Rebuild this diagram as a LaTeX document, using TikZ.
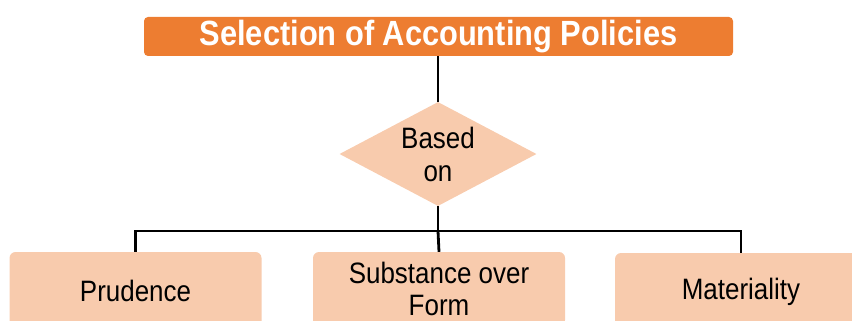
\documentclass[tikz,border=0pt]{standalone}
\usepackage{fontspec}
\setmainfont{Liberation Sans}[FakeStretch=0.88]
\usetikzlibrary{shapes.geometric}
\definecolor{titleorange}{HTML}{ED7D31}
\definecolor{peach}{HTML}{F8CBAD}
\begin{document}
\begin{tikzpicture}[x=1pt,y=-1pt,
  titlebox/.style={fill=titleorange, draw=none, rounded corners=4pt, minimum width=589pt, minimum height=39pt, inner sep=0pt, text=white, font=\fontsize{35}{38}\selectfont\bfseries},
  itembox/.style={fill=peach, draw=none, rounded corners=6pt, minimum width=252pt, minimum height=78pt, inner sep=0pt, align=center, font=\fontsize{29.5}{32}\selectfont},
  decision/.style={diamond, fill=peach, draw=none, inner sep=0pt, minimum width=197pt, minimum height=104pt},
  dialabel/.style={align=center, font=\fontsize{29.5}{33}\selectfont},
  conn/.style={line width=2.8pt, draw=black}]
\useasboundingbox (0,0) rectangle (852,321);
\clip (0,0) rectangle (852,321);
\node[titlebox] (title) at (438.5,36.5) {Selection of Accounting Policies};
\node[decision, label={[dialabel]center:Based\\on}] (dia) at (438,154) {};
\node[itembox] (p) at (135.5,291) {Prudence};
\node[itembox, minimum height=74pt] (s) at (439,289) {Substance over\\Form};
\node[itembox] (m) at (741,292) {Materiality};
\coordinate (j) at (438,231);
\draw[conn] (title.south -| dia.north) -- (dia.north);
\draw[conn] (dia.south) -- (j);
\draw[conn] (p.north) -- (p.north |- j) -- (m.north |- j) -- (m.north);
\draw[conn] (j) -- (s.north);
\end{tikzpicture}
\end{document}
